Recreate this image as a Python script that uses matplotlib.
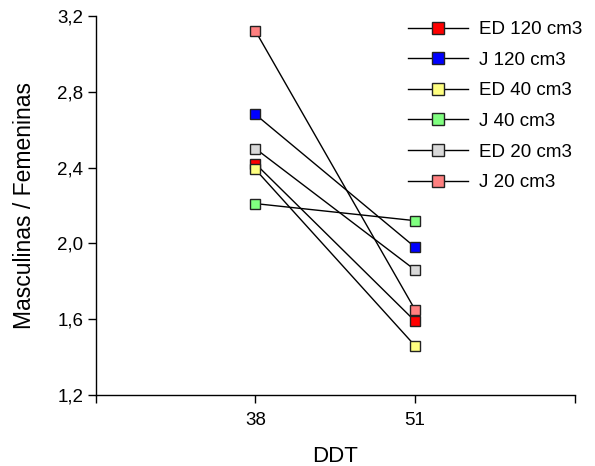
import matplotlib
matplotlib.use('Agg')
import matplotlib.pyplot as plt

# datos
ddt = ['38', '51']
series = ['ED 120 cm3', 'J 120 cm3', 'ED 40 cm3', 'J 40 cm3', 'ED 20 cm3', 'J 20 cm3']
ed120 = [2.42, 1.59]
j120 = [2.68, 1.98]
ed40 = [2.39, 1.46]
j40 = [2.21, 2.12]
ed20 = [2.50, 1.86]
j20 = [3.12, 1.65]
colores = ['#ff0000', '#0000ff', '#ffff80', '#80ff80', '#d9d9d9', '#ff8080']

plt.rcParams['font.family'] = ['Liberation Sans', 'DejaVu Sans']

fig = plt.figure(figsize=(5.95, 4.66), dpi=100)
ax = fig.add_axes([0.161, 0.152, 0.805, 0.814])

xpos = [1, 2]
for nombre, vals, col in zip(series, [ed120, j120, ed40, j40, ed20, j20], colores):
    ax.plot(xpos, vals, color='black', lw=1, marker='s', markersize=7,
            markerfacecolor=col, markeredgecolor='#222222', markeredgewidth=1,
            label=nombre)

ax.set_xlim(0, 3)
ax.set_ylim(1.2, 3.2)
ax.set_xticks([0, 1, 2, 3])
ax.set_xticklabels([''] + ddt + [''])
ax.set_yticks([1.2, 1.6, 2.0, 2.4, 2.8, 3.2])
ax.set_yticklabels(['1,2', '1,6', '2,0', '2,4', '2,8', '3,2'])
ax.tick_params(axis='both', labelsize=13.5, length=6, width=1, color='black', pad=3)
ax.tick_params(axis='x', pad=6)
ax.spines['top'].set_visible(False)
ax.spines['right'].set_visible(False)
ax.spines['left'].set_linewidth(1)
ax.spines['bottom'].set_linewidth(1)

ax.set_xlabel('DDT', fontsize=16, labelpad=12)
ax.set_ylabel('Masculinas / Femeninas', fontsize=16.5, labelpad=15)

leg = fig.legend(loc='upper left', bbox_to_anchor=(408 / 595, 1 - 21 / 466), frameon=False,
                 fontsize=13.5, handlelength=3.2, labelspacing=0.72, markerscale=1.3,
                 handletextpad=0.6, borderpad=0, borderaxespad=0)

plt.savefig('out.png', dpi=100)
plt.close()
